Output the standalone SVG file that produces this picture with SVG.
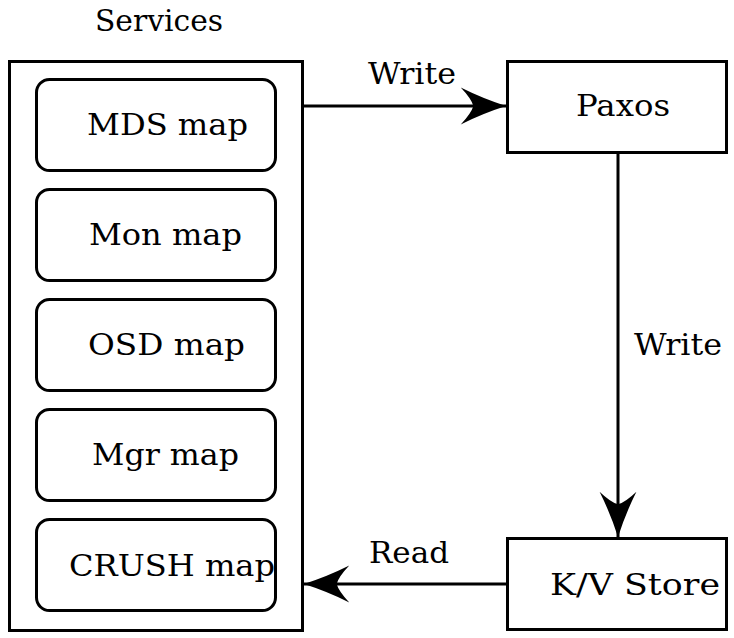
<svg xmlns="http://www.w3.org/2000/svg" width="734" height="638" viewBox="0 0 734 638">
<style>
.box{fill:#fff;stroke:#000;stroke-width:3}
.map{fill:#fff;stroke:#000;stroke-width:3}
.t{font-family:'DejaVu Serif','Liberation Serif',serif;font-size:30px;fill:#000}
.edge{stroke:#000;stroke-width:3;fill:none}
</style>
<defs>
<marker id="ah" markerUnits="userSpaceOnUse" markerWidth="50" markerHeight="40" viewBox="-44 -19 46 38" refX="0" refY="0" orient="auto">
<path d="M0 0 Q-22 -7 -43 -17.5 Q-33 -7 -31 0 Q-33 7 -43 17.5 Q-22 7 0 0Z" fill="#000"/>
</marker>
</defs>
<text class="t" x="95" y="31" textLength="128" lengthAdjust="spacingAndGlyphs">Services</text>
<g id="services">
<rect class="box" x="9.5" y="61.5" width="293" height="569"/>
</g>
<g id="mds"><rect class="map" x="36.5" y="79.5" width="239" height="91" rx="13"/><text class="t" x="87" y="135" textLength="161" lengthAdjust="spacingAndGlyphs">MDS map</text></g>
<g id="mon"><rect class="map" x="36.5" y="189.5" width="239" height="91" rx="13"/><text class="t" x="89" y="245" textLength="153" lengthAdjust="spacingAndGlyphs">Mon map</text></g>
<g id="osd"><rect class="map" x="36.5" y="299.5" width="239" height="91" rx="13"/><text class="t" x="88" y="355" textLength="157" lengthAdjust="spacingAndGlyphs">OSD map</text></g>
<g id="mgr"><rect class="map" x="36.5" y="409.5" width="239" height="91" rx="13"/><text class="t" x="92" y="465" textLength="147" lengthAdjust="spacingAndGlyphs">Mgr map</text></g>
<g id="crush"><rect class="map" x="36.5" y="519.5" width="239" height="91" rx="13"/><text class="t" x="69" y="576" textLength="206" lengthAdjust="spacingAndGlyphs">CRUSH map</text></g>
<g id="paxos"><rect class="box" x="507.5" y="61.5" width="219" height="91"/><text class="t" x="576" y="116" textLength="94" lengthAdjust="spacingAndGlyphs">Paxos</text></g>
<g id="kv"><rect class="box" x="507.5" y="538.5" width="219" height="91"/><text class="t" x="550" y="595" textLength="170" lengthAdjust="spacingAndGlyphs">K/V Store</text></g>
<g id="connectors">
<line class="edge" x1="303" y1="106" x2="506" y2="106" marker-end="url(#ah)"/>
<text class="t" x="368" y="84" textLength="88" lengthAdjust="spacingAndGlyphs">Write</text>
<line class="edge" x1="618" y1="152" x2="618" y2="537" marker-end="url(#ah)"/>
<text class="t" x="634" y="355" textLength="88" lengthAdjust="spacingAndGlyphs">Write</text>
<line class="edge" x1="507" y1="584" x2="304" y2="584" marker-end="url(#ah)"/>
<text class="t" x="369" y="563" textLength="80" lengthAdjust="spacingAndGlyphs">Read</text>
</g>
</svg>
